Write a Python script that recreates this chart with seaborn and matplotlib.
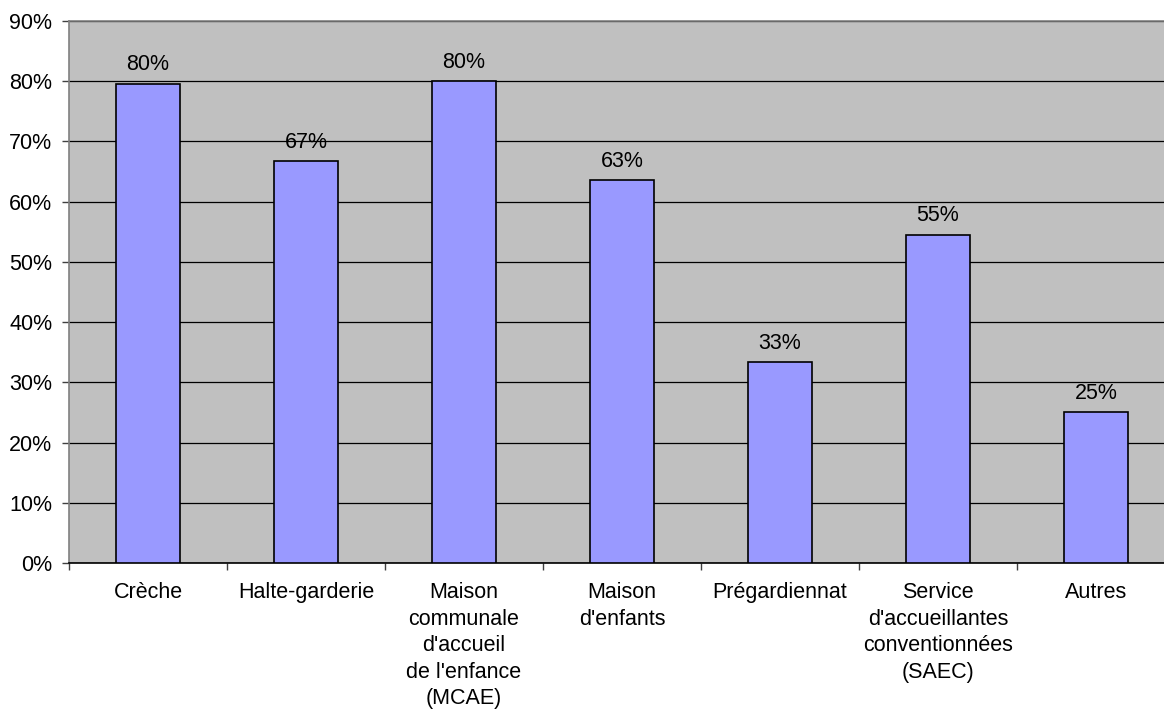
import numpy as np
import pandas as pd
import matplotlib
matplotlib.use("Agg")
import matplotlib.pyplot as plt
from matplotlib.ticker import PercentFormatter, FixedLocator
import seaborn as sns

# data
categories = [
    "Crèche",
    "Halte-garderie",
    "Maison\ncommunale\nd'accueil\nde l'enfance\n(MCAE)",
    "Maison\nd'enfants",
    "Prégardiennat",
    "Service\nd'accueillantes\nconventionnées\n(SAEC)",
    "Autres",
]
values = [0.796, 0.667, 0.800, 0.636, 0.333, 0.545, 0.250]
value_labels = ["80%", "67%", "80%", "63%", "33%", "55%", "25%"]

FS = 15.5


def main():
    df = pd.DataFrame({"type": categories, "share": values})

    sns.set_style("white")
    plt.rcParams["font.family"] = ["Liberation Sans", "DejaVu Sans"]
    plt.rcParams["text.color"] = "black"
    plt.rcParams["xtick.color"] = "black"
    plt.rcParams["ytick.color"] = "black"

    fig = plt.figure(figsize=(11.64, 7.10), dpi=100)
    ax = fig.add_axes([69 / 1164, 1 - 563 / 710, 1106 / 1164, 542 / 710])
    ax.set_facecolor("#C0C0C0")

    sns.barplot(
        data=df, x="type", y="share",
        color="#9999FF", saturation=1, width=0.4,
        edgecolor="black", linewidth=1.2, ax=ax, zorder=3,
    )

    # value labels above the bars
    for cur_i, (cur_val, cur_lab) in enumerate(zip(values, value_labels)):
        ax.annotate(cur_lab, (cur_i, cur_val), xytext=(0, 6),
                    textcoords="offset points", ha="center", va="bottom",
                    fontsize=FS, color="black")

    ax.set_ylim(0, 0.9)
    ax.set_xlim(-0.5, len(categories) - 0.5)
    ax.set_yticks(np.arange(0, 0.91, 0.1))
    ax.yaxis.set_major_formatter(PercentFormatter(1.0, decimals=0))
    ax.yaxis.grid(True, color="black", linewidth=0.9, zorder=1)
    ax.set_axisbelow(True)

    # category boundaries carry the tick marks, labels stay centred
    ax.xaxis.set_minor_locator(FixedLocator(np.arange(-0.5, len(categories), 1.0)))
    ax.tick_params(axis="x", which="major", length=0, pad=14, labelsize=FS,
                   labelcolor="black")
    ax.tick_params(axis="x", which="minor", length=5, width=1, color="#404040",
                   direction="out", bottom=True)
    ax.tick_params(axis="y", length=5, width=1, color="#404040",
                   direction="out", left=True, pad=7, labelsize=FS,
                   labelcolor="black")
    for lab in ax.get_xticklabels():
        lab.set_linespacing(1.34)

    ax.set_xlabel("")
    ax.set_ylabel("")

    for side in ["top", "left", "right"]:
        ax.spines[side].set_color("#808080")
        ax.spines[side].set_linewidth(1.2)
    ax.spines["bottom"].set_color("black")
    ax.spines["bottom"].set_linewidth(1.2)

    fig.savefig("out.png", dpi=100, facecolor="white")


if __name__ == "__main__":
    main()
